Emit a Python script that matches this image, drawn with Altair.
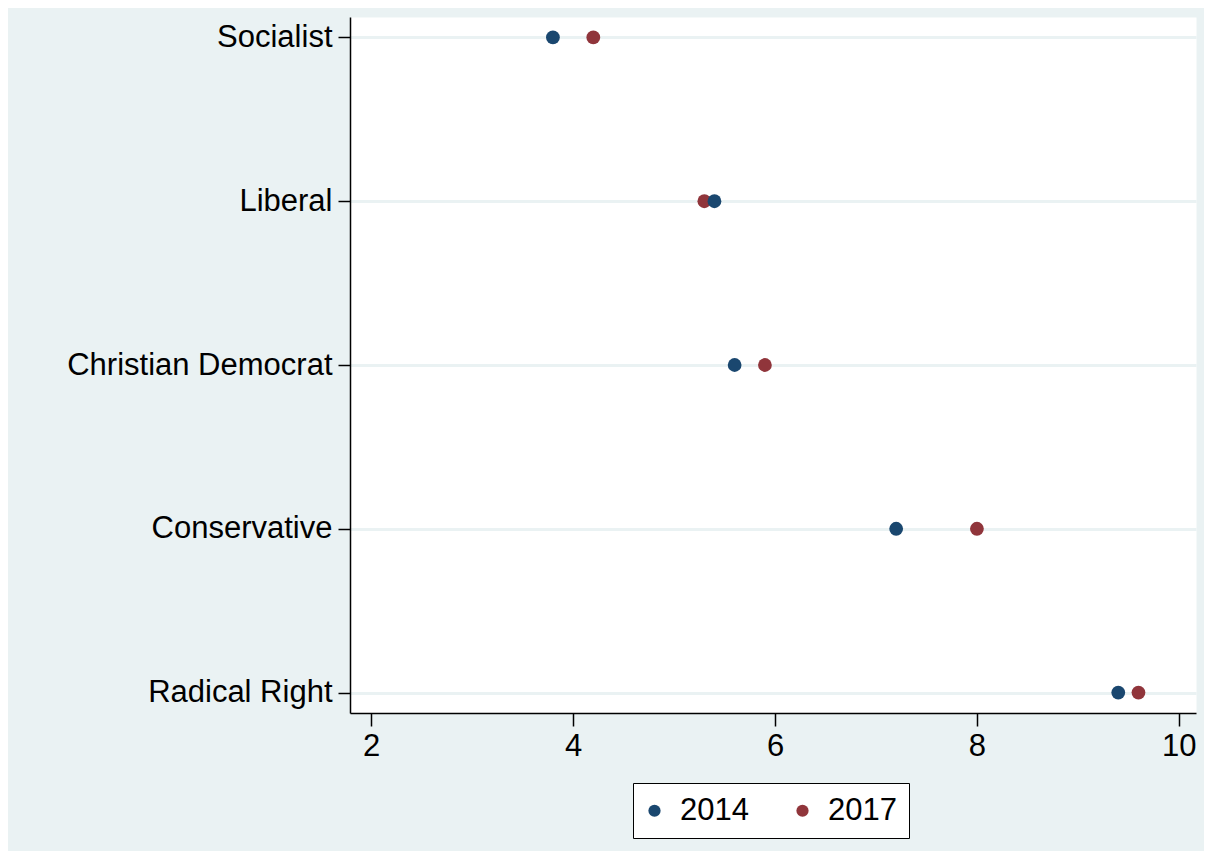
import altair as alt
import pandas as pd

parties = ["Socialist", "Liberal", "Christian Democrat", "Conservative", "Radical Right"]
years = ["2014", "2017"]
values_2014 = [3.8, 5.4, 5.6, 7.2, 9.4]
values_2017 = [4.2, 5.3, 5.9, 8.0, 9.6]
x_ticks = [2, 4, 6, 8, 10]
colors = ["#1A476F", "#90353B"]

rows = []
for p, v in zip(parties, values_2017):
    rows.append({"party": p, "year": "2017", "value": v})
for p, v in zip(parties, values_2014):
    rows.append({"party": p, "year": "2014", "value": v})
df = pd.DataFrame(rows)

FONT = "Liberation Sans"

chart = alt.Chart(df).mark_circle(size=190, opacity=1).encode(
    x=alt.X(
        "value:Q",
        scale=alt.Scale(domain=[1.79, 10.17], nice=False, zero=False),
        axis=alt.Axis(
            values=x_ticks, title=None, grid=False,
            domainColor="#000000", domainWidth=1.5,
            tickColor="#000000", tickSize=13, tickWidth=1.5,
            labelFontSize=31, labelFont=FONT, labelColor="#000000",
            labelPadding=5,
        ),
    ),
    y=alt.Y(
        "party:N",
        sort=parties,
        scale=alt.Scale(type="point", padding=0.125),
        axis=alt.Axis(
            title=None, grid=True, gridColor="#EAF2F3", gridWidth=3,
            domainColor="#000000", domainWidth=1.5,
            tickColor="#000000", tickSize=12, tickWidth=1.5,
            labelFontSize=31, labelFont=FONT, labelColor="#000000",
            labelPadding=6, labelLimit=500,
        ),
    ),
    color=alt.Color(
        "year:N",
        scale=alt.Scale(domain=years, range=colors),
        legend=alt.Legend(
            title=None, orient="none", legendX=283, legendY=766,
            direction="horizontal",
            strokeColor="#000000", fillColor="#FFFFFF", padding=12,
            labelFontSize=31, labelFont=FONT, labelColor="#000000",
            symbolType="circle", symbolSize=150, symbolStrokeWidth=0,
            symbolOffset=-6, labelOffset=10, columnPadding=44,
        ),
    ),
).properties(
    width=846,
    height=696,
    autosize=alt.AutoSizeParams(type="none"),
    padding={"left": 342, "top": 9, "right": 8, "bottom": 138},
).configure(
    background="#EAF2F3",
).configure_view(
    fill="#FFFFFF", strokeOpacity=0,
)

chart.save("out.html", embed_options={"renderer": "svg", "actions": False})
